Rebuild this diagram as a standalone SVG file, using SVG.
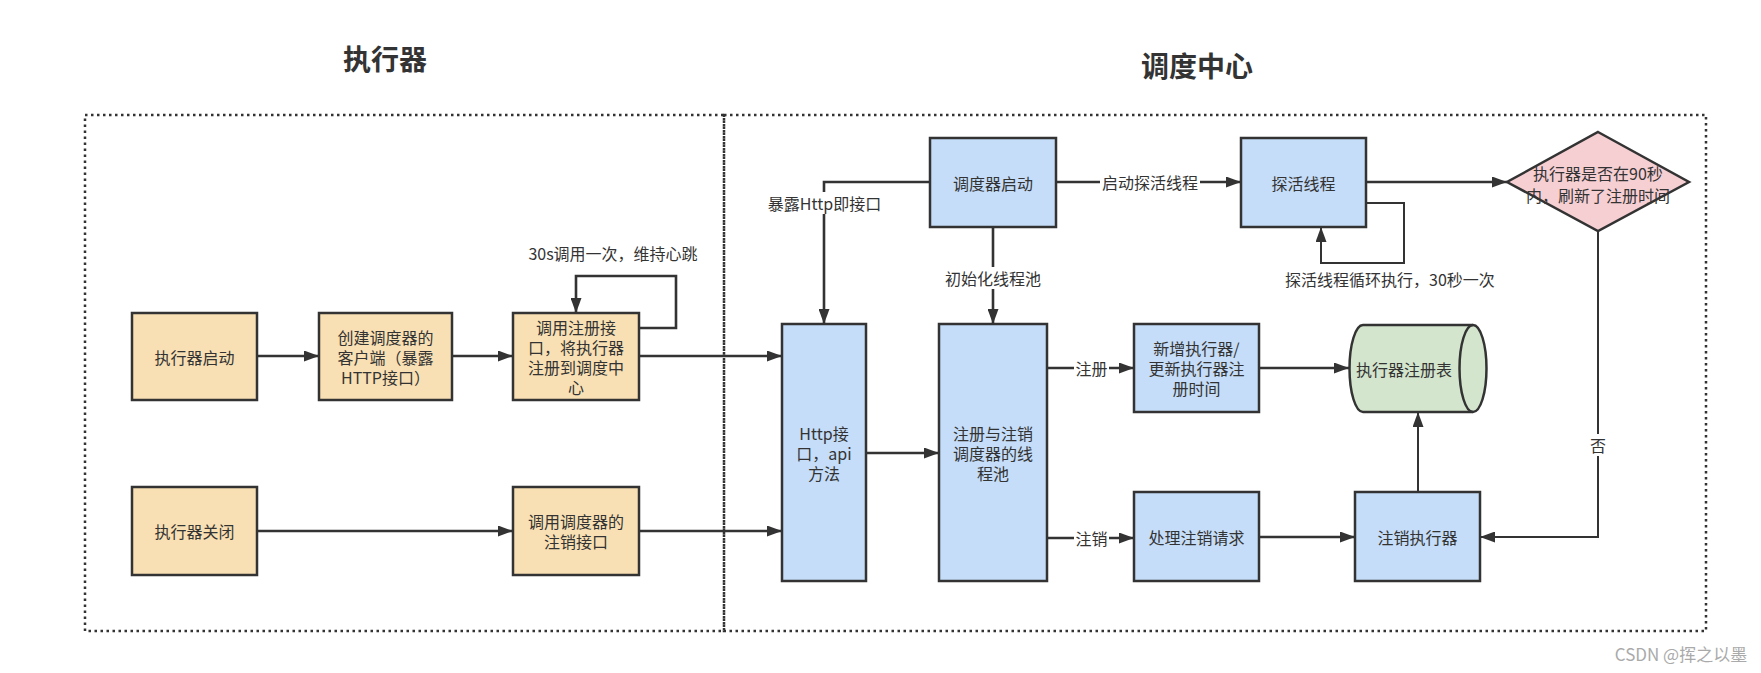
<svg xmlns="http://www.w3.org/2000/svg" width="1761" height="673" viewBox="0 0 1761 673">
<defs>
<style>
text{font-family:"Noto Sans CJK SC","Liberation Sans",sans-serif;fill:#333;font-size:16px;text-anchor:middle;dominant-baseline:central}
.title{font-size:28px;font-weight:bold}
.box{stroke:#333;stroke-width:2.5}
.exe{fill:#f8e0b4}
.sch{fill:#c5ddf8}
.frame{fill:none;stroke:#333;stroke-width:2.5;stroke-dasharray:2.5 3.5}
.ln{fill:none;stroke:#333;stroke-width:2.6}
.thin{fill:none;stroke:#333;stroke-width:2}
.lbl{fill:#fff}
.wm{fill:#aaa;font-size:17px}
</style>
<marker id="ah" viewBox="0 0 15 11" refX="15" refY="5.5" markerWidth="15" markerHeight="11" markerUnits="userSpaceOnUse" orient="auto">
<path d="M0,0 L15,5.5 L0,11 z" fill="#333"/>
</marker>
</defs>
<rect width="1761" height="673" fill="#fff"/>

<g id="titles">
<text class="title" x="385" y="58">执行器</text>
<text class="title" x="1197" y="65">调度中心</text>
</g>

<g id="frames">
<rect class="frame" x="85" y="115" width="639" height="516"/>
<rect class="frame" x="724" y="115" width="982" height="516"/>
</g>

<g id="connectors">
<path class="ln" d="M257,356 H319" marker-end="url(#ah)"/>
<path class="ln" d="M452,356 H513" marker-end="url(#ah)"/>
<path class="ln" d="M639,356 H782" marker-end="url(#ah)"/>
<path class="ln" d="M639,328 H676 V276 H576 V313" marker-end="url(#ah)"/>
<path class="ln" d="M257,531 H513" marker-end="url(#ah)"/>
<path class="ln" d="M639,531 H782" marker-end="url(#ah)"/>
<path class="ln" d="M930,182 H824 V324" marker-end="url(#ah)"/>
<path class="ln" d="M993,227 V324" marker-end="url(#ah)"/>
<path class="ln" d="M1056,182 H1241" marker-end="url(#ah)"/>
<path class="ln" d="M1366,182 H1507" marker-end="url(#ah)"/>
<path class="thin" d="M1366,203 H1404 V263 H1321 V227" marker-end="url(#ah)"/>
<path class="ln" d="M866,453 H939" marker-end="url(#ah)"/>
<path class="ln" d="M1047,368 H1134" marker-end="url(#ah)"/>
<path class="ln" d="M1047,538 H1134" marker-end="url(#ah)"/>
<path class="ln" d="M1259,368 H1349" marker-end="url(#ah)"/>
<path class="ln" d="M1259,537 H1355" marker-end="url(#ah)"/>
<path class="thin" d="M1418,492 V412" marker-end="url(#ah)"/>
<path class="thin" d="M1598,231 V537 H1480" marker-end="url(#ah)"/>
<text x="613" y="253">30s调用一次，维持心跳</text>
<rect class="lbl" x="766" y="192" width="117" height="22"/>
<text x="824.5" y="203">暴露Http即接口</text>
<rect class="lbl" x="944" y="267" width="98" height="22"/>
<text x="993" y="278">初始化线程池</text>
<rect class="lbl" x="1100" y="171" width="100" height="22"/>
<text x="1150" y="182">启动探活线程</text>
<text x="1390" y="279">探活线程循环执行，30秒一次</text>
<rect class="lbl" x="1074" y="357" width="35" height="22"/>
<text x="1091.5" y="368">注册</text>
<rect class="lbl" x="1074" y="527" width="35" height="22"/>
<text x="1091.5" y="538">注销</text>
<rect class="lbl" x="1589" y="434" width="18" height="22"/>
<text x="1598" y="445">否</text>
</g>

<g id="exec-start">
<rect class="box exe" x="132" y="313" width="125" height="87"/>
<text x="194.5" y="356.5">执行器启动</text>
</g>
<g id="create-client">
<rect class="box exe" x="319" y="313" width="133" height="87"/>
<text x="385.5" y="336.5">创建调度器的</text>
<text x="385.5" y="356.5">客户端（暴露</text>
<text x="385.5" y="376.5">HTTP接口）</text>
</g>
<g id="call-register">
<rect class="box exe" x="513" y="313" width="126" height="87"/>
<text x="576" y="326.5">调用注册接</text>
<text x="576" y="346.5">口，将执行器</text>
<text x="576" y="366.5">注册到调度中</text>
<text x="576" y="386.5">心</text>
</g>
<g id="exec-stop">
<rect class="box exe" x="132" y="487" width="125" height="88"/>
<text x="194.5" y="531">执行器关闭</text>
</g>
<g id="call-unregister">
<rect class="box exe" x="513" y="487" width="126" height="88"/>
<text x="576" y="521">调用调度器的</text>
<text x="576" y="541">注销接口</text>
</g>

<g id="scheduler-start">
<rect class="box sch" x="930" y="138" width="126" height="89"/>
<text x="993" y="183">调度器启动</text>
</g>
<g id="probe-thread">
<rect class="box sch" x="1241" y="138" width="125" height="89"/>
<text x="1303.5" y="183">探活线程</text>
</g>
<g id="decision">
<polygon points="1598,132 1689,182 1598,231 1507,182" fill="#f6cfd3" stroke="#333" stroke-width="2.5"/>
<text x="1598" y="173">执行器是否在90秒</text>
<text x="1598" y="195">内，刷新了注册时间</text>
</g>
<g id="http-api">
<rect class="box sch" x="782" y="324" width="84" height="257"/>
<text x="824" y="432.5">Http接</text>
<text x="824" y="452.5">口，api</text>
<text x="824" y="472.5">方法</text>
</g>
<g id="thread-pool">
<rect class="box sch" x="939" y="324" width="108" height="257"/>
<text x="993" y="432.5">注册与注销</text>
<text x="993" y="452.5">调度器的线</text>
<text x="993" y="472.5">程池</text>
</g>
<g id="add-update">
<rect class="box sch" x="1134" y="324" width="125" height="88"/>
<text x="1196.5" y="348">新增执行器/</text>
<text x="1196.5" y="368">更新执行器注</text>
<text x="1196.5" y="388">册时间</text>
</g>
<g id="handle-unregister">
<rect class="box sch" x="1134" y="492" width="125" height="89"/>
<text x="1196.5" y="537">处理注销请求</text>
</g>
<g id="unregister-exec">
<rect class="box sch" x="1355" y="492" width="125" height="89"/>
<text x="1417.5" y="537">注销执行器</text>
</g>
<g id="registry-table">
<path d="M1363,325 H1473 A13.5,43.5 0 0 1 1473,412 H1363 A13.5,43.5 0 0 1 1363,325 Z" fill="#d3e5cd" stroke="#333" stroke-width="2.5"/>
<path d="M1473,325 A13.5,43.5 0 0 0 1473,412" fill="none" stroke="#333" stroke-width="2.5"/>
<text x="1404" y="369">执行器注册表</text>
</g>

<text class="wm" x="1681" y="653">CSDN @挥之以墨</text>
</svg>
